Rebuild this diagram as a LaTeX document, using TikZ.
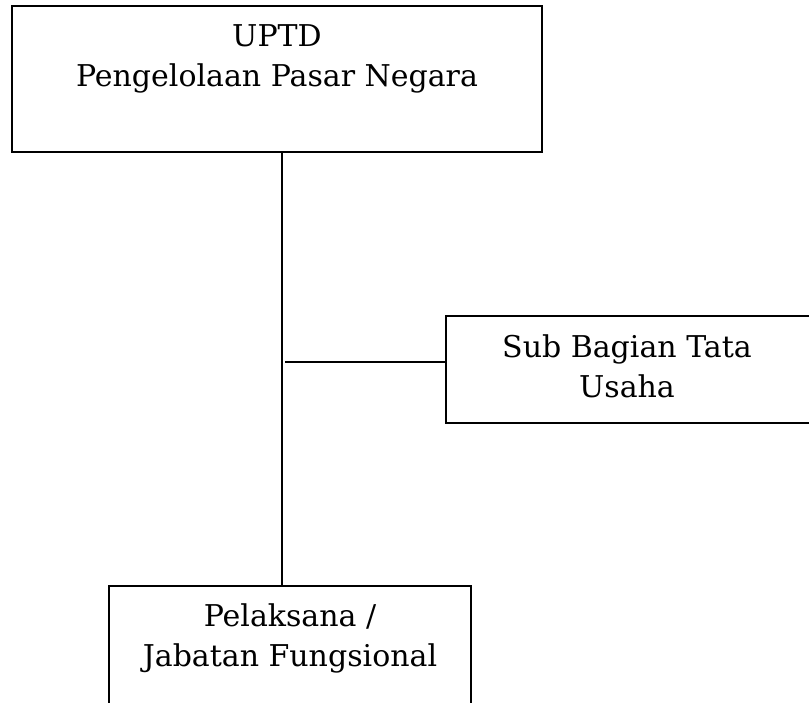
\documentclass[tikz,border=0pt]{standalone}
\usepackage{fontspec}
\setmainfont{DejaVu Serif}
\begin{document}
\begin{tikzpicture}[x=1pt,y=-1pt,
  box/.style={draw,line width=2pt,inner sep=0pt,outer sep=0pt,anchor=north west},
  lbl/.style={font=\fontsize{30}{40}\selectfont,align=center,anchor=base,inner sep=0pt},
  conn/.style={line width=2pt}]
\useasboundingbox (0,0) rectangle (809,702);
\node[box,minimum width=530pt,minimum height=146pt] (uptd) at (12,6) {};
\node[box,minimum width=366pt,minimum height=107pt] (sub) at (446,316) {};
\node[box,minimum width=362pt,minimum height=140pt] (pel) at (109,586) {};
\node[lbl] (uptdtext) at (277,86) {UPTD\\Pengelolaan Pasar Negara};
\node[lbl] (subtext) at (627,397) {Sub Bagian Tata\\Usaha};
\node[lbl] (peltext) at (290,666) {Pelaksana /\\Jabatan Fungsional};
\coordinate (sx) at (282,0);
\coordinate (jn) at (285,361.5);
\draw[conn] (uptd.south -| sx) -- (pel.north -| sx);
\draw[conn] (jn) -- (jn -| sub.west);
\end{tikzpicture}
\end{document}
